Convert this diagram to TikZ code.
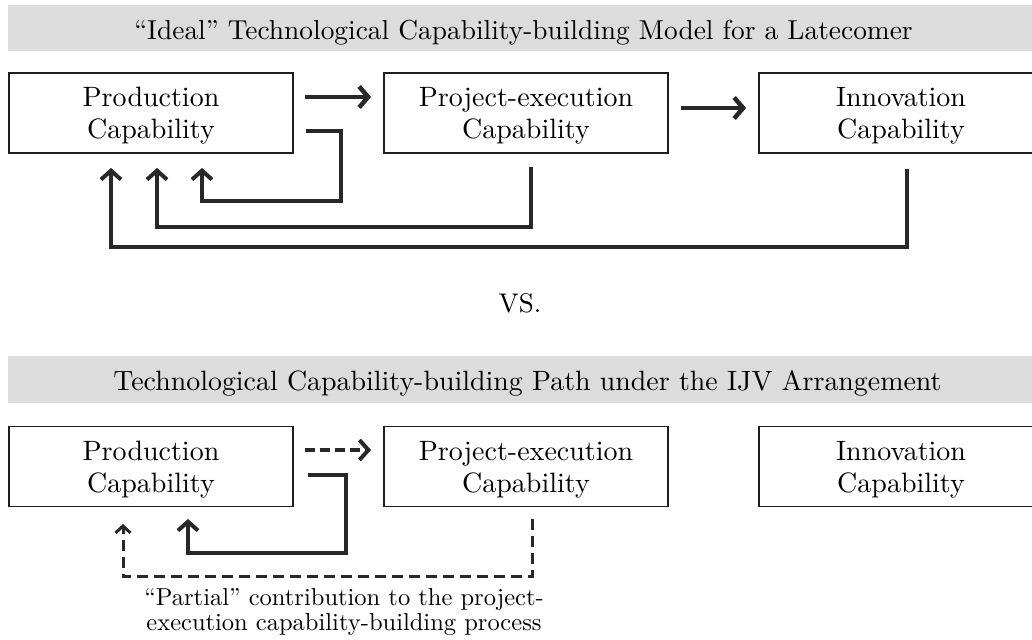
\documentclass[tikz,border=0pt]{standalone}
\usepackage{fontspec}
\setmainfont{lmroman10-regular.otf}
\usetikzlibrary{arrows.meta}
\definecolor{banner}{RGB}{220,220,220}
\definecolor{ink}{RGB}{40,40,40}
\definecolor{boxline}{RGB}{30,30,30}
% extra height on the first line of a box label, lowering the label a little
\newcommand{\boxstrut}{\rule{0pt}{25.5pt}}
\begin{document}
\begin{tikzpicture}[x=1pt,y=-1pt,
  capbox/.style={draw=boxline, line width=1.8pt, minimum width=284pt, minimum height=80pt,
    inner sep=0pt, align=center, font=\fontsize{28}{32}\selectfont},
  solidarr/.style={draw=ink, line width=4.5pt,
    -{Straight Barb[length=9pt,width=21pt,line width=4.5pt]}},
  dasharr/.style={draw=ink, line width=3.5pt, dash pattern=on 10pt off 5pt,
    -{Straight Barb[length=9pt,width=20pt,line width=4pt]}},
  fbarr/.style={draw=ink, line width=4pt,
    -{Straight Barb[length=9pt,width=20pt,line width=4pt]}},
  fbdash/.style={draw=ink, line width=3pt, dash pattern=on 11pt off 6pt,
    -{Straight Barb[length=7pt,width=15pt,line width=3pt]}},
  titletext/.style={anchor=base, inner sep=0pt},
]
\useasboundingbox (0,0) rectangle (1032,639);

% title banners
\fill[banner] (8,5) rectangle (1040,51);
\fill[banner] (8,356) rectangle (1040,403);
\node[titletext, font=\fontsize{27.4}{30}\selectfont] (t1) at (523.5,40)
  {“Ideal” Technological Capability-building Model for a Latecomer};
\node[titletext, font=\fontsize{27.9}{30}\selectfont] (t2) at (527.5,390)
  {Technological Capability-building Path under the IJV Arrangement};

% ideal model
\node[capbox] (p1) at (151,113) {\boxstrut Production\\Capability};
\node[capbox] (e1) at (526,113) {\boxstrut Project-execution\\Capability};
\node[capbox] (n1) at (901,113) {\boxstrut Innovation\\Capability};

\draw[solidarr] ([xshift=11pt,yshift=16pt]p1.east) -- ([xshift=-12pt,yshift=16pt]e1.west);
\draw[solidarr] ([xshift=12pt,yshift=5pt]e1.east) -- ([xshift=-12pt,yshift=5pt]n1.west);

\draw[fbarr] ([xshift=12pt,yshift=-18pt]p1.east) -| ++(35pt,-70pt)
  -| ([xshift=51pt,yshift=-14pt]p1.south);
\draw[fbarr] ([xshift=5pt,yshift=-13pt]e1.south) -- ++(0pt,-60pt)
  -| ([xshift=6pt,yshift=-14pt]p1.south);
\draw[fbarr] ([xshift=6pt,yshift=-15pt]n1.south) -- ++(0pt,-78pt)
  -| ([xshift=-40pt,yshift=-14pt]p1.south);

\node[anchor=base, inner sep=0pt, font=\fontsize{27}{30}\selectfont] (vs) at (520,312) {VS.};

% joint-venture path
\node[capbox] (p2) at (151,466.5) {\boxstrut Production\\Capability};
\node[capbox] (e2) at (526,466.5) {\boxstrut Project-execution\\Capability};
\node[capbox] (n2) at (901,466.5) {\boxstrut Innovation\\Capability};

\draw[dasharr] ([xshift=11pt,yshift=16.5pt]p2.east) -- ([xshift=-12pt,yshift=16.5pt]e2.west);

\draw[fbarr] ([xshift=14pt,yshift=-8.5pt]p2.east) -| ++(38pt,-78pt)
  -| ([xshift=37pt,yshift=-11.5pt]p2.south);
\draw[fbdash] ([xshift=6pt,yshift=-11.5pt]e2.south) -- ++(0pt,-58pt)
  -| ([xshift=-28pt,yshift=-16.5pt]p2.south);

\node[align=center, inner sep=0pt, font=\fontsize{24.5}{24.5}\selectfont] (note) at (344,612)
  {“Partial” contribution to the project-\\execution capability-building process};
\end{tikzpicture}
\end{document}
